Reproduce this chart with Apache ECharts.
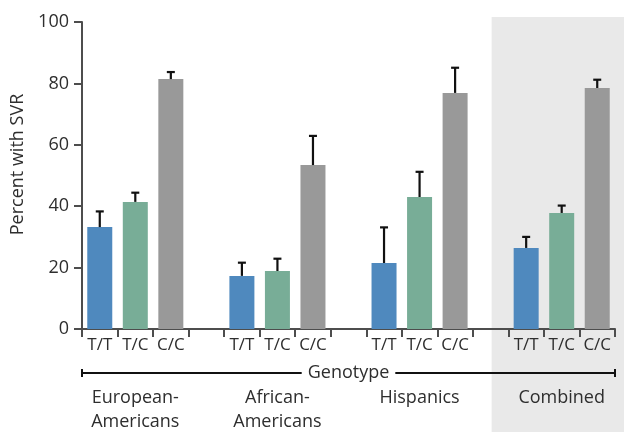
<!DOCTYPE html>
<html>
<head>
<meta charset="utf-8">
<script src="https://cdn.jsdelivr.net/npm/echarts@6/dist/echarts.min.js"></script>
<style>
  html, body { margin: 0; padding: 0; background: #ffffff; }
  #chart { width: 624px; height: 432px; }
</style>
</head>
<body>
<div id="chart"></div>
<script>
// Cohorts and genotypes
var groups = ['European-\nAmericans', 'African-\nAmericans', 'Hispanics', 'Combined'];
var genotypes = ['T/T', 'T/C', 'C/C'];

// Percent with SVR (bar height) per cohort
var ttMean = [33.2, 17.3, 21.5, 26.4];
var tcMean = [41.4, 18.9, 43.0, 37.8];
var ccMean = [81.4, 53.4, 76.9, 78.5];

// Top of the error bar per cohort
var ttUpper = [38.3, 21.6, 33.1, 30.0];
var tcUpper = [44.4, 22.9, 51.2, 40.2];
var ccUpper = [83.7, 62.9, 85.1, 81.2];

// Y axis ticks
var yTicks = [0, 20, 40, 60, 80, 100];

var genoColors = ['#4f89be', '#78ad97', '#999999'];
var textColor = '#2e2e2e';
var axisColor = '#4d4d4d';
var fontFamily = '"Open Sans", "Noto Sans", sans-serif';

// Build the slot layout: three genotypes per cohort with an empty slot between cohorts
var means = [ttMean, tcMean, ccMean];
var uppers = [ttUpper, tcUpper, ccUpper];
var slots = [];        // category ids
var slotGeno = [];     // genotype label per slot
var slotGroup = [];    // cohort label per slot (on the middle bar only)
var barData = [];
var errData = [];
groups.forEach(function (g, gi) {
  genotypes.forEach(function (gt, ti) {
    var idx = slots.length;
    slots.push(gi + ':' + gt);
    slotGeno.push(gt);
    slotGroup.push(ti === 1 ? g : '');
    barData.push({ value: means[ti][gi], itemStyle: { color: genoColors[ti] } });
    errData.push([idx, means[ti][gi], uppers[ti][gi]]);
  });
  if (gi < groups.length - 1) {
    slots.push('gap' + gi);
    slotGeno.push('');
    slotGroup.push('');
    barData.push('-');
  }
});

var chart = echarts.init(document.getElementById('chart'), null, { renderer: 'canvas' });

var option = {
  animation: false,
  backgroundColor: '#ffffff',
  textStyle: { fontFamily: fontFamily },
  grid: { left: 82, right: 9, top: 22, bottom: 103, containLabel: false, outerBoundsMode: 'none' },
  xAxis: [
    {
      type: 'category',
      data: slots,
      boundaryGap: true,
      axisLine: { show: true, lineStyle: { color: axisColor, width: 2 } },
      axisTick: { show: true, interval: 0, length: 8, lineStyle: { color: axisColor, width: 2 } },
      axisLabel: {
        interval: 0,
        margin: 8,
        fontSize: 17,
        color: textColor,
        fontFamily: fontFamily,
        formatter: function (v, i) { return slotGeno[i]; }
      },
      splitLine: { show: false }
    },
    {
      type: 'category',
      data: slots,
      position: 'bottom',
      offset: 50,
      boundaryGap: true,
      axisLine: { show: false },
      axisTick: { show: false },
      axisLabel: {
        interval: 0,
        margin: 7,
        fontSize: 18,
        lineHeight: 24,
        color: textColor,
        fontFamily: fontFamily,
        hideOverlap: false,
        formatter: function (v, i) { return slotGroup[i]; }
      },
      splitLine: { show: false }
    }
  ],
  yAxis: {
    type: 'value',
    min: yTicks[0],
    max: yTicks[yTicks.length - 1],
    interval: yTicks[1] - yTicks[0],
    name: 'Percent with SVR',
    nameLocation: 'middle',
    nameRotate: 90,
    nameGap: 52,
    nameTextStyle: { fontSize: 18, color: textColor, fontFamily: fontFamily, padding: [0, 0, 0, 22] },
    axisLine: { show: true, lineStyle: { color: axisColor, width: 2 } },
    axisTick: { show: true, length: 8, lineStyle: { color: axisColor, width: 2 } },
    axisLabel: { fontSize: 18, color: textColor, margin: 13, fontFamily: fontFamily },
    splitLine: { show: false }
  },
  series: [
    {
      type: 'bar',
      xAxisIndex: 0,
      data: barData,
      barWidth: 25,
      z: 2
    },
    {
      type: 'custom',
      xAxisIndex: 0,
      z: 3,
      data: errData,
      renderItem: function (params, api) {
        var i = api.value(0);
        var base = api.coord([i, api.value(1)]);
        var top = api.coord([i, api.value(2)]);
        var cap = 4;
        var style = { stroke: '#111111', lineWidth: 2.2 };
        return {
          type: 'group',
          children: [
            { type: 'line', shape: { x1: base[0], y1: base[1], x2: top[0], y2: top[1] }, style: style },
            { type: 'line', shape: { x1: top[0] - cap, y1: top[1], x2: top[0] + cap, y2: top[1] }, style: style }
          ]
        };
      }
    }
  ]
};

chart.setOption(option);

// Shaded panel behind the combined cohort and the "Genotype" bracket below the axis
var firstPt = chart.convertToPixel({ xAxisIndex: 0, yAxisIndex: 0 }, [0, 0]);
var lastPt = chart.convertToPixel({ xAxisIndex: 0, yAxisIndex: 0 }, [slots.length - 1, 0]);
var slotW = (lastPt[0] - firstPt[0]) / (slots.length - 1);
var axisLeft = firstPt[0] - slotW / 2;
var axisRight = lastPt[0] + slotW / 2;
var combinedGap = slots.indexOf('gap2');
var shadeX = chart.convertToPixel({ xAxisIndex: 0 }, combinedGap);
var topPx = chart.convertToPixel({ yAxisIndex: 0 }, yTicks[yTicks.length - 1]);
var bracketY = firstPt[1] + 44;
var midX = (axisLeft + axisRight) / 2;
var lineStyle = { stroke: '#111111', lineWidth: 2 };

chart.setOption({
  graphic: [
    {
      type: 'rect',
      z: -100,
      silent: true,
      shape: { x: shadeX + 1, y: topPx - 5, width: 624 - shadeX, height: 432 - topPx + 5 },
      style: { fill: '#e9e9e9' }
    },
    {
      type: 'line', z: 10, silent: true,
      shape: { x1: axisLeft, y1: bracketY, x2: axisRight, y2: bracketY },
      style: lineStyle
    },
    {
      type: 'line', z: 10, silent: true,
      shape: { x1: axisLeft, y1: bracketY - 4, x2: axisLeft, y2: bracketY + 4 },
      style: lineStyle
    },
    {
      type: 'line', z: 10, silent: true,
      shape: { x1: axisRight, y1: bracketY - 4, x2: axisRight, y2: bracketY + 4 },
      style: lineStyle
    },
    {
      type: 'text', z: 11, silent: true,
      x: midX, y: bracketY,
      style: {
        text: 'Genotype',
        fill: textColor,
        font: '18px ' + fontFamily,
        align: 'center',
        verticalAlign: 'middle',
        backgroundColor: '#ffffff',
        padding: [0, 6]
      }
    }
  ]
});
</script>
</body>
</html>
